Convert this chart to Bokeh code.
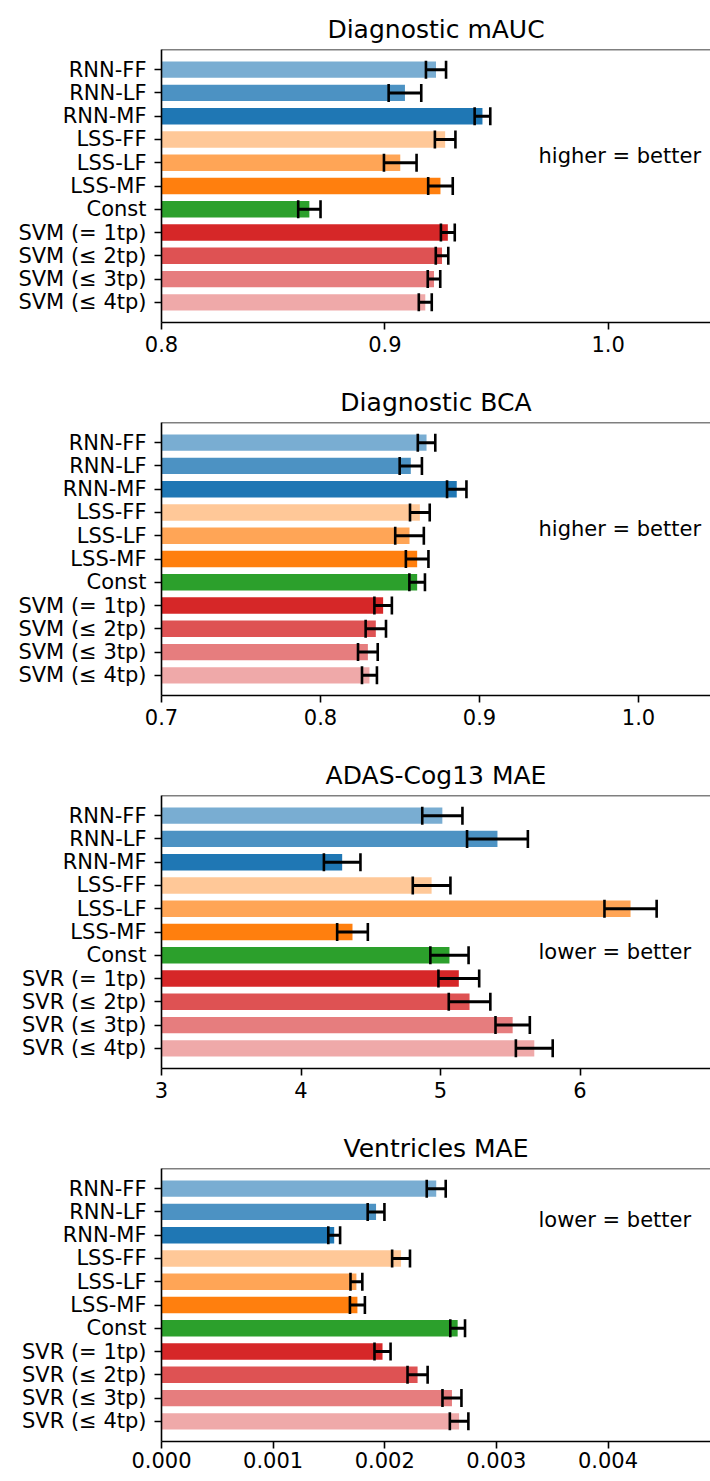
import numpy as np
from bokeh.plotting import figure
from bokeh.models import Range1d, FixedTicker, ColumnDataSource, Span, Label
from bokeh.layouts import column
from bokeh.embed import file_html
from bokeh.resources import INLINE

# ---------------- data ----------------
clf_methods = ["RNN-FF", "RNN-LF", "RNN-MF", "LSS-FF", "LSS-LF", "LSS-MF", "Const",
               "SVM (= 1tp)", "SVM (≤ 2tp)", "SVM (≤ 3tp)", "SVM (≤ 4tp)"]
reg_methods = ["RNN-FF", "RNN-LF", "RNN-MF", "LSS-FF", "LSS-LF", "LSS-MF", "Const",
               "SVR (= 1tp)", "SVR (≤ 2tp)", "SVR (≤ 3tp)", "SVR (≤ 4tp)"]

mauc_mean = [0.9229, 0.9090, 0.9437, 0.9270, 0.9069, 0.9249, 0.8662, 0.9282, 0.9256, 0.9220, 0.9181]
mauc_err = [0.0045, 0.0073, 0.0035, 0.0046, 0.0073, 0.0055, 0.0050, 0.0031, 0.0028, 0.0028, 0.0029]

bca_mean = [0.8667, 0.8568, 0.8857, 0.8625, 0.8560, 0.8608, 0.8608, 0.8394, 0.8348, 0.8298, 0.8308]
bca_err = [0.0055, 0.0070, 0.0061, 0.0062, 0.0090, 0.0071, 0.0049, 0.0055, 0.0064, 0.0062, 0.0047]

adas_mean = [5.013, 5.408, 4.295, 4.936, 6.362, 4.369, 5.064, 5.131, 5.208, 5.517, 5.672]
adas_err = [0.144, 0.218, 0.131, 0.135, 0.187, 0.110, 0.137, 0.146, 0.149, 0.123, 0.132]

vent_mean = [0.002461, 0.001922, 0.001547, 0.002146, 0.001746, 0.001755, 0.002653,
             0.001980, 0.002294, 0.002602, 0.002666]
vent_err = [0.000085, 0.000075, 0.000053, 0.000080, 0.000053, 0.000067, 0.000066,
            0.000072, 0.000090, 0.000085, 0.000083]

mauc_ticks = [0.8, 0.9, 1.0]
mauc_tick_labels = ["0.8", "0.9", "1.0"]
bca_ticks = [0.7, 0.8, 0.9, 1.0]
bca_tick_labels = ["0.7", "0.8", "0.9", "1.0"]
adas_ticks = [3, 4, 5, 6]
adas_tick_labels = ["3", "4", "5", "6"]
vent_ticks = [0.0, 0.001, 0.002, 0.003, 0.004]
vent_tick_labels = ["0.000", "0.001", "0.002", "0.003", "0.004"]

# ---------------- style ----------------
bar_colors = ["#79add2", "#4c92c3", "#1f77b4",
              "#ffc898", "#ffa556", "#ff7f0e",
              "#2ca02c",
              "#d62728", "#de5253", "#e67d7e", "#efa9a9"]
FONT = "DejaVu Sans"
FRAME_W = 549


def make_panel(title, labels, means, errs, xr, ticks, tick_labels, note, note_y,
               height, border_bottom, x_standoff):
    n = len(labels)
    ys = list(range(n))
    lo = [m - e for m, e in zip(means, errs)]
    hi = [m + e for m, e in zip(means, errs)]
    src = ColumnDataSource(dict(y=ys, mean=means, lo=lo, hi=hi, color=bar_colors[:n]))

    p = figure(width=710, height=height, x_range=Range1d(*xr),
               y_range=Range1d(n - 1 + 0.87, -0.87),
               output_backend="svg", toolbar_location=None,
               min_border_left=161, min_border_right=0, min_border_top=49,
               min_border_bottom=border_bottom, title=title)
    p.title.text_font = FONT
    p.title.text_font_size = "25px"
    p.title.text_font_style = "normal"
    p.title.text_color = "black"
    p.title.align = "center"
    p.title.standoff = 11

    p.outline_line_color = None
    p.xgrid.visible = False
    p.ygrid.visible = False
    p.background_fill_color = "white"
    p.border_fill_color = "white"

    p.hbar(y="y", left=0, right="mean", height=0.7, fill_color="color",
           line_color=None, source=src)
    p.segment(x0="lo", y0="y", x1="hi", y1="y", line_color="black",
              line_width=2.8, source=src)
    p.scatter(x="lo", y="y", marker="dash", angle=np.pi / 2, size=18,
              line_color="black", line_width=2.6, source=src)
    p.scatter(x="hi", y="y", marker="dash", angle=np.pi / 2, size=18,
              line_color="black", line_width=2.6, source=src)

    p.add_layout(Span(location=-0.87, dimension="width", line_color="black",
                      line_width=1.6))

    for ax in (p.xaxis[0], p.yaxis[0]):
        ax.axis_line_color = "black"
        ax.axis_line_width = 1.6
        ax.major_tick_line_color = "black"
        ax.major_tick_line_width = 1.6
        ax.major_tick_in = 0
        ax.major_tick_out = 7
        ax.minor_tick_line_color = None
        ax.major_label_text_font = FONT
        ax.major_label_text_font_size = "21px"
        ax.major_label_text_color = "black"

    p.yaxis[0].ticker = FixedTicker(ticks=ys)
    p.yaxis[0].major_label_overrides = {i: lab for i, lab in zip(ys, labels)}
    p.yaxis[0].major_label_standoff = 8

    p.xaxis[0].ticker = FixedTicker(ticks=ticks)
    p.xaxis[0].major_label_overrides = {t: s for t, s in zip(ticks, tick_labels)}
    p.xaxis[0].major_label_standoff = x_standoff

    note_x = xr[0] + (377.0 / FRAME_W) * (xr[1] - xr[0])
    p.add_layout(Label(x=note_x, y=note_y, text=note, text_font=FONT,
                       text_font_size="21px", text_color="black",
                       text_baseline="middle", text_align="left"))
    return p


p1 = make_panel("Diagnostic mAUC", clf_methods, mauc_mean, mauc_err, (0.8, 1.0458),
                mauc_ticks, mauc_tick_labels, "higher = better", 3.7, 373, 51, 6)
p2 = make_panel("Diagnostic BCA", clf_methods, bca_mean, bca_err, (0.7, 1.0453),
                bca_ticks, bca_tick_labels, "higher = better", 3.72, 373, 51, 6)
p3 = make_panel("ADAS-Cog13 MAE", reg_methods, adas_mean, adas_err, (3.0, 6.935),
                adas_ticks, adas_tick_labels, "lower = better", 5.86, 373, 51, 6)
p4 = make_panel("Ventricles MAE", reg_methods, vent_mean, vent_err, (0.0, 0.004918),
                vent_ticks, vent_tick_labels, "lower = better", 1.33, 362, 40, 3)

layout = column(p1, p2, p3, p4, spacing=0)
open("out.html", "w").write(file_html(layout, INLINE))
